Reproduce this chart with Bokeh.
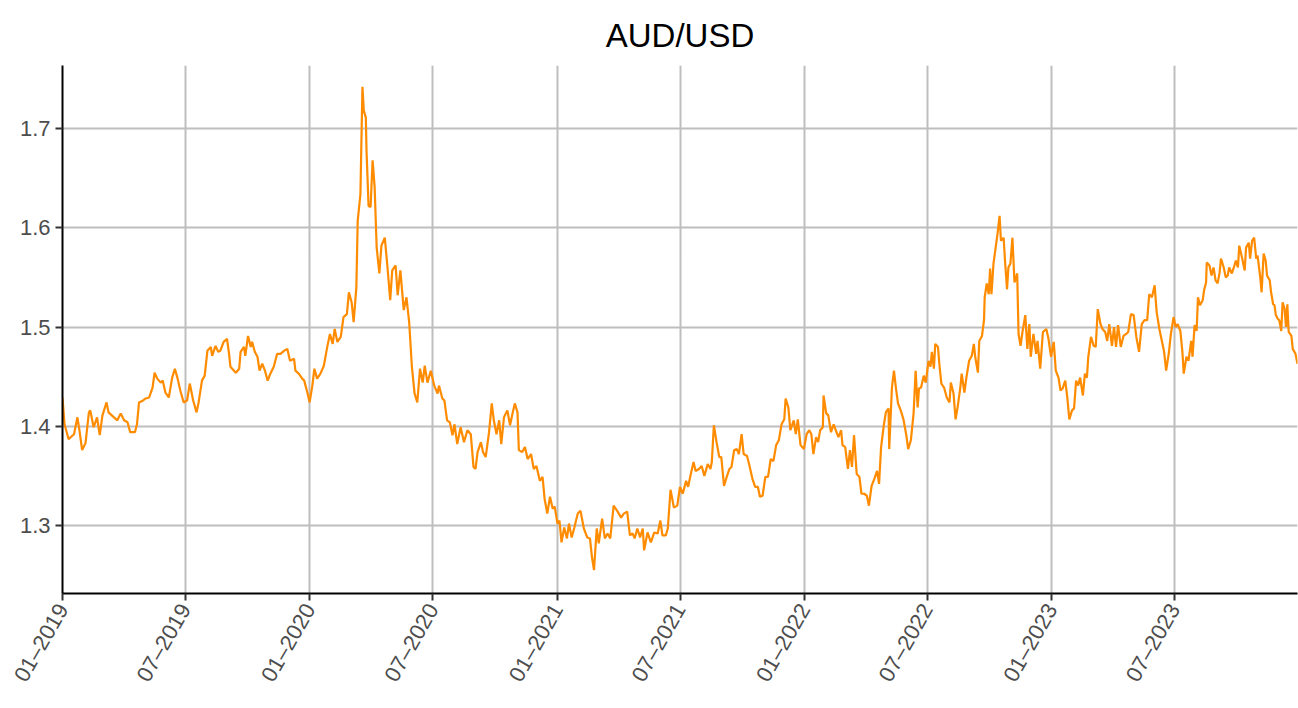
import math
from datetime import datetime, timedelta
from bokeh.plotting import figure
from bokeh.models import Range1d, MonthsTicker, DatetimeTickFormatter, FixedTicker
from bokeh.embed import file_html
from bokeh.resources import INLINE

title_text = "AUD/USD"
start_date = "2019-01-01"

day_offsets = [
    0, 3, 9, 17, 22, 25, 29, 34, 39, 41, 46, 51, 55, 59, 65, 68, 76, 81, 86, 91,
    96, 100, 107, 110, 113, 119, 123, 128, 133, 136, 140, 145, 148, 152, 157, 162, 166, 170, 174,
    179, 184, 188, 193, 198, 201, 206, 210, 214, 219, 221, 226, 230, 233, 238, 243, 246, 248, 256, 261,
    263, 268, 270, 274, 278, 280, 284, 288, 291, 295, 299, 303, 307, 312, 317, 322, 327, 332, 336, 342,
    344, 349,
    354, 357, 362, 365, 369, 372, 376, 381, 386, 391, 395, 399, 402, 406, 411, 415, 420, 423, 427, 430,
    434, 436, 440, 443, 445, 448, 449, 452, 455, 458, 461, 464, 468, 471, 476, 480, 484, 487, 492, 495,
    499, 504, 508, 512, 516, 520, 524, 528, 532, 535, 539, 544, 549, 554,
    556, 561, 564, 568, 572, 576, 579, 583, 588, 593, 598, 603, 607, 610, 613, 618, 621, 625, 630, 634,
    637, 641, 645, 648, 652, 657, 661, 665, 668, 672, 674, 679, 683, 687, 692, 696, 700, 705, 709, 712,
    716, 720, 724, 727,
    731, 734, 737, 741, 745, 748, 752, 756, 761, 765, 770, 775, 779, 782, 785, 789, 792, 797, 801, 805,
    809, 814, 819, 825, 829, 834, 838, 842, 845, 849, 853, 857, 859, 864, 869, 874, 879, 883, 886, 891,
    894, 898,
    903, 908, 912, 916, 921, 924, 928, 932, 935, 940, 944, 948, 953, 957, 959, 962, 966, 970, 973, 977,
    981, 985, 988, 992, 996, 999, 1003, 1006, 1011, 1014, 1019, 1023, 1027, 1030, 1034, 1038, 1042, 1046, 1050, 1054,
    1058, 1062, 1066, 1068, 1072, 1075, 1080, 1083, 1086, 1090, 1095, 1099, 1103,
    1106, 1109, 1113, 1116, 1119, 1123, 1124, 1128, 1131, 1135, 1139, 1142, 1146, 1150, 1152, 1156, 1160, 1163, 1166, 1169,
    1173, 1177, 1180, 1184, 1188, 1191, 1195, 1199, 1203, 1206, 1209, 1213, 1216, 1220, 1221, 1225, 1228, 1231, 1234, 1238,
    1242, 1246, 1249, 1253, 1257, 1260, 1263, 1265,
    1268, 1272, 1275, 1279, 1282, 1284, 1287, 1289, 1293, 1295, 1298, 1302, 1306, 1310, 1312, 1316, 1319, 1322, 1326, 1328,
    1332, 1335, 1339, 1343, 1346, 1348, 1352, 1354, 1358, 1361, 1362, 1365, 1368, 1370, 1372, 1375, 1379, 1381, 1384, 1386,
    1390, 1392, 1395, 1397, 1400, 1403, 1406, 1410, 1412, 1415, 1418, 1422, 1425, 1428, 1430, 1434, 1438, 1440, 1444,
    1448, 1453, 1456, 1460, 1464, 1467, 1471, 1474, 1477, 1481, 1484, 1487, 1491, 1494, 1497, 1500, 1503, 1507, 1510, 1513,
    1515, 1519, 1523, 1526, 1529, 1533, 1536, 1540, 1543, 1546, 1550, 1553, 1556, 1559, 1563, 1567, 1571, 1574, 1578, 1582,
    1586, 1590, 1594, 1598, 1602, 1605, 1609, 1613, 1616, 1620, 1624, 1627,
    1630, 1634, 1637, 1641, 1644, 1647, 1651, 1654, 1656, 1660, 1663, 1667, 1669, 1672, 1675, 1677, 1680, 1684, 1686, 1689,
    1690, 1694, 1697, 1700, 1703, 1706, 1709, 1711, 1715, 1718, 1721, 1723, 1727, 1730, 1733, 1736, 1738, 1742, 1746, 1748,
    1752, 1754, 1757, 1760, 1763, 1765, 1769, 1771, 1774, 1777, 1779, 1783, 1785, 1788, 1790, 1792, 1795, 1797, 1800, 1802,
    1805, 1807, 1809, 1811, 1815, 1817, 1821, 1824,
]

aud_usd = [
    1.429, 1.402, 1.387, 1.392, 1.409, 1.396, 1.376, 1.383, 1.414, 1.416, 1.399, 1.409, 1.391, 1.411, 1.424, 1.414, 1.409, 1.406, 1.413, 1.406,
    1.404, 1.394, 1.394, 1.402, 1.424, 1.426, 1.428, 1.429, 1.439, 1.454, 1.448, 1.444, 1.446, 1.434, 1.429, 1.449, 1.458, 1.448, 1.436,
    1.424, 1.426, 1.443, 1.426, 1.414, 1.424, 1.446, 1.451, 1.476, 1.480, 1.471, 1.481, 1.475, 1.476, 1.485, 1.488, 1.473, 1.460, 1.454, 1.458,
    1.475, 1.480, 1.471, 1.491, 1.480, 1.485, 1.475, 1.470, 1.456, 1.463, 1.456, 1.446, 1.453, 1.460, 1.473, 1.473, 1.476, 1.478, 1.466, 1.468,
    1.456, 1.453,
    1.448, 1.446, 1.433, 1.424, 1.441, 1.458, 1.448, 1.453, 1.461, 1.480, 1.493, 1.483, 1.498, 1.485, 1.490, 1.510, 1.513, 1.535, 1.525, 1.505,
    1.540, 1.607, 1.634, 1.742, 1.718, 1.711, 1.678, 1.622, 1.621, 1.668, 1.641, 1.580, 1.554, 1.582, 1.590, 1.560, 1.527, 1.557, 1.562, 1.532,
    1.557, 1.517, 1.530, 1.505, 1.460, 1.433, 1.424, 1.458, 1.444, 1.461, 1.444, 1.456, 1.441, 1.433,
    1.441, 1.428, 1.426, 1.406, 1.404, 1.391, 1.402, 1.382, 1.399, 1.384, 1.396, 1.392, 1.359, 1.357, 1.374, 1.384, 1.374, 1.369, 1.394, 1.423,
    1.406, 1.392, 1.406, 1.382, 1.409, 1.416, 1.401, 1.414, 1.423, 1.414, 1.376, 1.374, 1.379, 1.367, 1.372, 1.357, 1.360, 1.345, 1.349, 1.327,
    1.312, 1.329, 1.317, 1.319,
    1.302, 1.305, 1.283, 1.298, 1.287, 1.302, 1.288, 1.298, 1.312, 1.315, 1.297, 1.288, 1.287, 1.268, 1.255, 1.297, 1.282, 1.307, 1.287, 1.292,
    1.287, 1.320, 1.315, 1.308, 1.312, 1.314, 1.290, 1.292, 1.287, 1.297, 1.288, 1.297, 1.275, 1.293, 1.283, 1.293, 1.292, 1.305, 1.290, 1.290,
    1.297, 1.336,
    1.318, 1.320, 1.339, 1.332, 1.345, 1.339, 1.352, 1.364, 1.355, 1.357, 1.360, 1.350, 1.362, 1.357, 1.364, 1.401, 1.384, 1.369, 1.369, 1.340,
    1.349, 1.357, 1.359, 1.376, 1.377, 1.372, 1.392, 1.372, 1.370, 1.362, 1.347, 1.339, 1.339, 1.329, 1.330, 1.349, 1.349, 1.367, 1.365, 1.381,
    1.386, 1.402, 1.407, 1.428, 1.419, 1.396, 1.406, 1.392, 1.407, 1.381, 1.377, 1.392, 1.396,
    1.392, 1.372, 1.389, 1.384, 1.396, 1.399, 1.431, 1.413, 1.411, 1.394, 1.402, 1.396, 1.389, 1.396, 1.381, 1.379, 1.357, 1.376, 1.359, 1.391,
    1.352, 1.349, 1.332, 1.332, 1.330, 1.320, 1.340, 1.347, 1.355, 1.342, 1.379, 1.401, 1.414, 1.418, 1.377, 1.439, 1.456, 1.438, 1.423, 1.416,
    1.407, 1.392, 1.377, 1.386, 1.413, 1.456, 1.419, 1.438,
    1.439, 1.451, 1.444, 1.466, 1.460, 1.475, 1.458, 1.483, 1.480, 1.463, 1.443, 1.439, 1.429, 1.424, 1.444, 1.433, 1.407, 1.419, 1.439, 1.453,
    1.434, 1.449, 1.466, 1.471, 1.483, 1.470, 1.454, 1.486, 1.491, 1.507, 1.530, 1.544, 1.533, 1.559, 1.533, 1.564, 1.584, 1.594, 1.612, 1.587,
    1.590, 1.567, 1.538, 1.560, 1.564, 1.590, 1.545, 1.554, 1.493, 1.481, 1.496, 1.512, 1.478, 1.503, 1.470, 1.493, 1.473, 1.486, 1.458,
    1.495, 1.498, 1.489, 1.470, 1.485, 1.456, 1.449, 1.436, 1.438, 1.446, 1.429, 1.407, 1.416, 1.418, 1.446, 1.441, 1.449, 1.431, 1.453, 1.449,
    1.470, 1.490, 1.481, 1.480, 1.518, 1.503, 1.498, 1.495, 1.486, 1.503, 1.481, 1.500, 1.480, 1.502, 1.480, 1.491, 1.493, 1.495, 1.513, 1.512,
    1.490, 1.475, 1.503, 1.507, 1.507, 1.533, 1.530, 1.542, 1.515, 1.498, 1.485, 1.475,
    1.456, 1.474, 1.493, 1.510, 1.500, 1.503, 1.496, 1.475, 1.453, 1.470, 1.466, 1.486, 1.470, 1.502, 1.496, 1.530, 1.522, 1.527, 1.537, 1.545,
    1.565, 1.562, 1.552, 1.560, 1.547, 1.544, 1.555, 1.569, 1.560, 1.550, 1.552, 1.560, 1.554, 1.560, 1.567, 1.560, 1.582, 1.570, 1.557, 1.580,
    1.585, 1.569, 1.587, 1.590, 1.569, 1.572, 1.550, 1.535, 1.574, 1.567, 1.552, 1.547, 1.535, 1.523, 1.522, 1.512, 1.508, 1.507, 1.496, 1.525,
    1.518, 1.500, 1.523, 1.495, 1.491, 1.478, 1.473, 1.463,
]

y_ticks = [1.3, 1.4, 1.5, 1.6, 1.7]
tick_months = [0, 6]  # January and July (0-indexed)
tick_label_format = "%m\u2013%Y"

assert len(day_offsets) == len(aud_usd)

t0 = datetime.strptime(start_date, "%Y-%m-%d")
dates = [t0 + timedelta(days=d) for d in day_offsets]

FONT = "Liberation Sans"

p = figure(
    width=1298, height=708,
    x_axis_type="datetime",
    output_backend="svg",
    toolbar_location=None,
    x_range=Range1d(dates[0], dates[-1]),
    y_range=Range1d(1.2315, 1.7635),
    min_border_left=62, min_border_right=1,
    min_border_top=65, min_border_bottom=115,
)

p.line(dates, aud_usd, line_color="#FF8C00", line_width=2.2)

p.title.text = title_text
p.title.align = "center"
p.title.text_font = FONT
p.title.text_font_size = "33px"
p.title.text_font_style = "normal"
p.title.text_color = "black"
p.title.standoff = 23

p.xaxis.ticker = MonthsTicker(months=tick_months)
p.xaxis.formatter = DatetimeTickFormatter(
    months=tick_label_format, years=tick_label_format, days=tick_label_format
)
p.xaxis.major_label_orientation = math.radians(60)
p.yaxis.ticker = FixedTicker(ticks=y_ticks)

for ax in (p.xaxis, p.yaxis):
    ax.axis_line_color = "black"
    ax.axis_line_width = 2
    ax.major_tick_line_color = "#333333"
    ax.major_tick_line_width = 2
    ax.major_tick_out = 7
    ax.major_tick_in = 0
    ax.minor_tick_line_color = None
    ax.major_label_text_font = FONT
    ax.major_label_text_font_size = "22px"
    ax.major_label_text_color = "#4D4D4D"
    ax.major_label_standoff = 5

p.xgrid.grid_line_color = "#BEBEBE"
p.ygrid.grid_line_color = "#BEBEBE"
p.xgrid.grid_line_width = 2
p.ygrid.grid_line_width = 2
p.outline_line_color = None
p.background_fill_color = "white"
p.border_fill_color = "white"

with open("out.html", "w") as f:
    f.write(file_html(p, INLINE))
